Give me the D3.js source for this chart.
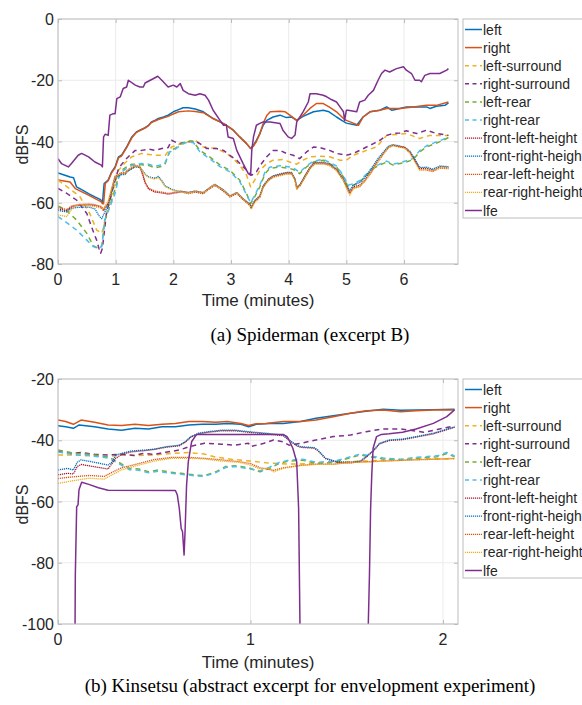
<!DOCTYPE html>
<html>
<head>
<meta charset="utf-8">
<script src="https://cdn.jsdelivr.net/npm/d3@7"></script>
<style>
  body { margin: 0; background: #fff; }
  svg { display: block; }
  text { font-family: "Liberation Sans", Arial, Helvetica, sans-serif; fill: #262626; }
  .caption { font-family: "Liberation Serif", "Times New Roman", serif; fill: #000; }
</style>
</head>
<body>
<svg id="fig" width="582" height="705"></svg>
<script>
// channel names, in plotting order
const channels = ["left", "right", "left-surround", "right-surround", "left-rear", "right-rear",
  "front-left-height", "front-right-height", "rear-left-height", "rear-right-height", "lfe"];

// ---- (a) Spiderman, excerpt B : [minutes, dBFS]
const aLeft = [[0,-50.3],[0.12,-51],[0.21,-51.6],[0.27,-51.8],[0.32,-54.8],[0.41,-55.7],[0.53,-57],[0.64,-58.1],[0.74,-59],[0.77,-60.3],[0.8,-53.7],[0.87,-52.6],[0.93,-49.9],[0.99,-48.3],[1.05,-45],[1.1,-44.5],[1.19,-41.8],[1.28,-38.5],[1.36,-36.9],[1.42,-36.3],[1.51,-35.5],[1.57,-34.7],[1.62,-33.6],[1.68,-33.1],[1.74,-32.5],[1.83,-32],[1.91,-31.4],[2.0,-30.3],[2.09,-29.6],[2.17,-29],[2.26,-29],[2.38,-29.4],[2.52,-30.3],[2.69,-32.5],[2.81,-33.6],[2.92,-34.7],[3.04,-36.3],[3.15,-38.5],[3.27,-40.7],[3.34,-42.3],[3.39,-41.2],[3.44,-39.6],[3.5,-37.4],[3.56,-34.6],[3.62,-33.1],[3.73,-32],[3.85,-31.4],[3.96,-32.2],[4.05,-32],[4.14,-33.1],[4.25,-31.8],[4.43,-30.3],[4.6,-29.8],[4.7,-30.3],[4.83,-32],[4.92,-33.1],[5.0,-34],[5.18,-34.7],[5.29,-32],[5.41,-30.3],[5.58,-29.8],[5.7,-28.7],[5.79,-29.8],[5.93,-29.2],[6.04,-28.7],[6.22,-28.7],[6.39,-28.7],[6.45,-29.2],[6.56,-28.5],[6.71,-28.2],[6.77,-27.4]];
const aRight = [[0,-52.6],[0.21,-53.2],[0.3,-55.4],[0.53,-57.5],[0.75,-59.7],[0.79,-60.3],[0.82,-53.7],[0.87,-52.8],[0.93,-50.2],[0.99,-48.6],[1.05,-45.3],[1.1,-44.8],[1.19,-42],[1.28,-38.8],[1.36,-37],[1.42,-36.4],[1.51,-35.6],[1.57,-34.8],[1.62,-33.8],[1.74,-32.8],[1.91,-31.8],[2.0,-31],[2.09,-30.3],[2.26,-30],[2.38,-30.2],[2.52,-30.6],[2.69,-32.5],[2.81,-33.6],[2.92,-34.7],[3.04,-36.3],[3.15,-38.5],[3.27,-40.7],[3.34,-42.3],[3.39,-41.5],[3.44,-40],[3.5,-37.5],[3.56,-34],[3.62,-31.5],[3.68,-30.3],[3.85,-30.1],[3.94,-30.3],[4.02,-31.4],[4.14,-33.1],[4.25,-31.4],[4.37,-29.2],[4.48,-27.6],[4.6,-27.6],[4.7,-28.7],[4.83,-30.3],[4.95,-32.5],[5.0,-33.1],[5.12,-34],[5.21,-34.7],[5.29,-32],[5.41,-30.3],[5.58,-29.8],[5.7,-29.2],[5.93,-29.2],[6.16,-28.7],[6.39,-28.2],[6.56,-28.2],[6.77,-27.1]];
const aLeftSurr = [[0,-52.6],[0.15,-54.7],[0.38,-58],[0.55,-63.5],[0.67,-68.9],[0.76,-70],[0.79,-67.8],[0.84,-63.5],[0.96,-55.5],[1.05,-49.4],[1.16,-47],[1.28,-45],[1.45,-43.9],[1.68,-44.5],[1.86,-44.5],[1.97,-41.8],[2.09,-41],[2.26,-40.1],[2.38,-39.6],[2.52,-41.8],[2.75,-42.3],[2.92,-43.9],[3.04,-45.6],[3.15,-47.7],[3.27,-51],[3.34,-54.8],[3.41,-52.6],[3.5,-49.4],[3.62,-47.2],[3.73,-46.1],[3.9,-45.9],[4.02,-46.7],[4.14,-47.4],[4.25,-46.1],[4.37,-45],[4.54,-44.8],[4.71,-45],[4.89,-46.1],[5.0,-46.1],[5.12,-44.5],[5.35,-42.9],[5.52,-41.8],[5.7,-38],[5.93,-37.6],[6.04,-37.4],[6.27,-39],[6.45,-38],[6.62,-38],[6.77,-38]];
const aRightSurr = [[0,-55.3],[0.15,-56.9],[0.32,-59.1],[0.5,-63.5],[0.58,-67.8],[0.67,-72.2],[0.71,-74.9],[0.74,-76.5],[0.77,-74.9],[0.8,-70],[0.84,-63.5],[0.9,-59.1],[0.96,-54.7],[1.05,-48.8],[1.16,-46.1],[1.28,-43.9],[1.34,-42.9],[1.45,-42.9],[1.57,-42.5],[1.68,-42.9],[1.8,-42.3],[1.91,-42],[1.97,-39.6],[2.09,-40.7],[2.26,-40.1],[2.38,-39.8],[2.46,-40.7],[2.58,-42.3],[2.75,-42.3],[2.87,-42.9],[2.98,-44.5],[3.1,-46.1],[3.21,-48.3],[3.3,-49.9],[3.36,-51],[3.44,-49.9],[3.53,-47.2],[3.62,-45],[3.73,-42.9],[3.85,-42.9],[3.96,-43.9],[4.08,-44.5],[4.19,-45.6],[4.31,-43.4],[4.43,-41.8],[4.54,-42],[4.71,-42.9],[4.83,-43.9],[5.0,-44.5],[5.12,-43.9],[5.23,-42.9],[5.35,-41.8],[5.47,-40.7],[5.58,-39.6],[5.7,-38],[5.81,-37.4],[5.93,-37.2],[6.04,-36.5],[6.22,-37.4],[6.39,-36.3],[6.56,-37.4],[6.77,-38]];
const aLeftRear = [[0,-61],[0.15,-62.6],[0.32,-65.6],[0.5,-70],[0.61,-74],[0.7,-74.9],[0.76,-74],[0.81,-66],[0.9,-61],[0.99,-55.5],[1.05,-51.5],[1.1,-49.4],[1.19,-48.3],[1.28,-47.4],[1.45,-47.6],[1.57,-47.8],[1.68,-48.6],[1.8,-48.1],[1.86,-47.2],[1.94,-42.9],[2.03,-42.3],[2.14,-40.7],[2.26,-39.8],[2.35,-40.1],[2.46,-42.9],[2.63,-45],[2.81,-47.7],[2.98,-49.4],[3.15,-52.6],[3.27,-57],[3.34,-60.3],[3.41,-58.1],[3.5,-54.8],[3.59,-50.5],[3.67,-48.8],[3.85,-48.3],[4.02,-48.8],[4.11,-49.4],[4.19,-50.5],[4.31,-48.3],[4.43,-46.7],[4.6,-46.1],[4.71,-47.2],[4.83,-48.3],[4.95,-51.6],[5.03,-54.8],[5.12,-54.3],[5.23,-53.2],[5.35,-51],[5.47,-48.8],[5.58,-47.7],[5.7,-46.7],[5.81,-47.7],[5.93,-47.2],[6.04,-46.7],[6.16,-45.9],[6.27,-43.4],[6.39,-41.8],[6.54,-40.7],[6.68,-39.6],[6.77,-38.7]];
const aRightRear = [[0,-64.5],[0.15,-66.5],[0.32,-68.9],[0.5,-72.2],[0.61,-74.3],[0.7,-75],[0.76,-74.3],[0.81,-65.6],[0.9,-61.3],[0.99,-56.9],[1.05,-52],[1.1,-50],[1.19,-48.8],[1.28,-47.8],[1.45,-47.2],[1.57,-47.4],[1.68,-48.1],[1.8,-47.6],[1.86,-46.8],[1.94,-43.4],[2.03,-42.6],[2.14,-41],[2.26,-40.1],[2.35,-40.4],[2.46,-43.4],[2.63,-45.6],[2.81,-48.2],[2.98,-49.9],[3.15,-53],[3.27,-57.4],[3.34,-60],[3.41,-57.6],[3.5,-54.2],[3.59,-50],[3.67,-48.4],[3.85,-47.9],[4.02,-48.3],[4.11,-49],[4.19,-50],[4.31,-48],[4.43,-46.4],[4.6,-45.8],[4.71,-46.9],[4.83,-48],[4.95,-51.2],[5.03,-54.3],[5.12,-53.8],[5.23,-52.8],[5.35,-50.6],[5.47,-48.4],[5.58,-47.4],[5.7,-46.4],[5.81,-47.4],[5.93,-46.9],[6.04,-46.3],[6.16,-45.5],[6.27,-43],[6.39,-41.4],[6.54,-40.3],[6.68,-39.3],[6.77,-38.4]];
const aFrontLeftH = [[0,-62],[0.15,-62.6],[0.24,-61.3],[0.35,-60.9],[0.53,-60.7],[0.64,-60.9],[0.75,-61.5],[0.79,-62.6],[0.82,-61.5],[0.87,-60.3],[0.93,-55.9],[0.99,-51.6],[1.1,-50.5],[1.16,-50.5],[1.22,-49.4],[1.34,-48.1],[1.42,-48.3],[1.47,-51],[1.51,-53.5],[1.57,-55.5],[1.68,-56.5],[1.8,-56.8],[1.91,-57.2],[2.03,-56.8],[2.14,-56.5],[2.26,-57],[2.38,-56.5],[2.52,-57],[2.63,-55.4],[2.72,-54.3],[2.81,-55.4],[2.92,-57],[2.98,-58.1],[3.1,-57],[3.21,-59],[3.33,-60.8],[3.35,-61.9],[3.41,-59.7],[3.5,-58.1],[3.56,-54.8],[3.65,-52.6],[3.73,-51.6],[3.85,-51],[3.96,-50.5],[4.05,-50.5],[4.11,-52.6],[4.14,-55.4],[4.2,-54.3],[4.28,-51.6],[4.37,-48.8],[4.45,-47.2],[4.6,-47.2],[4.71,-47.7],[4.83,-49.4],[4.95,-52.6],[5.0,-54.8],[5.06,-57],[5.12,-54.8],[5.23,-54.3],[5.32,-52.6],[5.44,-49.4],[5.55,-46.1],[5.64,-43.9],[5.73,-41.8],[5.81,-41.2],[5.93,-41.8],[6.01,-42],[6.1,-43.4],[6.19,-46.1],[6.27,-48.8],[6.39,-48.8],[6.5,-49.4],[6.62,-48.3],[6.77,-48.5]];
const aFrontRightH = [[0,-62.5],[0.15,-63],[0.24,-61.8],[0.35,-61.5],[0.53,-61.4],[0.64,-62],[0.72,-64.5],[0.76,-65.2],[0.8,-63.5],[0.87,-60.8],[0.93,-56.4],[0.99,-52],[1.1,-50.8],[1.16,-50.8],[1.22,-49.6],[1.34,-48.3],[1.42,-48.5],[1.47,-49.6],[1.51,-50.6],[1.57,-51.5],[1.68,-52],[1.74,-51.4],[1.8,-52.8],[1.86,-54.5],[1.97,-55.6],[2.09,-56.2],[2.26,-56.6],[2.38,-56.2],[2.52,-56.7],[2.63,-55],[2.72,-54],[2.81,-55],[2.92,-56.6],[2.98,-57.8],[3.1,-56.6],[3.21,-58.7],[3.33,-60.5],[3.35,-61.5],[3.41,-59.3],[3.5,-57.7],[3.56,-54.4],[3.65,-52.2],[3.73,-51.2],[3.85,-50.6],[3.96,-50.1],[4.05,-50.1],[4.11,-52.2],[4.14,-55],[4.2,-53.9],[4.28,-51.2],[4.37,-48.4],[4.45,-46.8],[4.6,-46.8],[4.71,-47.3],[4.83,-49],[4.95,-52.2],[5.0,-54.2],[5.06,-56],[5.12,-54.2],[5.23,-53.4],[5.32,-51.8],[5.44,-48.6],[5.55,-45.5],[5.64,-43.5],[5.73,-41.5],[5.81,-41],[5.93,-41.5],[6.01,-41.8],[6.1,-43.1],[6.19,-45.8],[6.27,-48.5],[6.39,-48.4],[6.5,-49],[6.62,-48],[6.77,-48.2]];
const aRearLeftH = [[0,-61.5],[0.15,-62.2],[0.24,-61],[0.35,-60.6],[0.53,-60.4],[0.64,-60.6],[0.75,-61.2],[0.79,-62.3],[0.82,-61.2],[0.87,-60],[0.93,-55.6],[0.99,-51.3],[1.1,-50.2],[1.16,-50.2],[1.22,-49.1],[1.34,-47.8],[1.42,-48],[1.47,-50.7],[1.51,-53.2],[1.57,-55.2],[1.68,-56.2],[1.8,-56.5],[1.91,-57],[2.03,-56.5],[2.14,-56.2],[2.26,-56.7],[2.38,-56.2],[2.52,-56.7],[2.63,-55.1],[2.72,-54],[2.81,-55.1],[2.92,-56.7],[2.98,-57.8],[3.1,-56.7],[3.21,-58.7],[3.33,-60.5],[3.35,-61.6],[3.41,-59.4],[3.5,-57.8],[3.56,-54.5],[3.65,-52.3],[3.73,-51.3],[3.85,-50.7],[3.96,-50.2],[4.05,-50.2],[4.11,-52.3],[4.14,-55.1],[4.2,-54],[4.28,-51.3],[4.37,-48.5],[4.45,-46.9],[4.6,-46.9],[4.71,-47.4],[4.83,-49.1],[4.95,-52.3],[5.0,-54.5],[5.06,-56.7],[5.12,-55.2],[5.23,-54.8],[5.32,-53],[5.44,-50],[5.55,-46.6],[5.64,-44.2],[5.73,-42],[5.81,-41.3],[5.93,-41.6],[6.01,-41.8],[6.1,-43.6],[6.19,-46.5],[6.27,-49.2],[6.39,-49.3],[6.5,-49.8],[6.62,-48.7],[6.77,-48.9]];
const aRearRightH = [[0,-64],[0.15,-64.5],[0.24,-62],[0.35,-60.5],[0.53,-61],[0.64,-61.3],[0.75,-61.8],[0.79,-62],[0.82,-61],[0.87,-59.5],[0.93,-55.5],[0.99,-51.8],[1.1,-50.3],[1.16,-50.6],[1.22,-49.2],[1.34,-48],[1.42,-48.2],[1.47,-49.8],[1.51,-50.8],[1.57,-51.8],[1.68,-52.3],[1.74,-51.8],[1.8,-53],[1.86,-54.8],[1.97,-55.8],[2.09,-56.4],[2.26,-56.9],[2.38,-56.4],[2.52,-56.9],[2.63,-55.2],[2.72,-54.2],[2.81,-55.2],[2.92,-56.8],[2.98,-58],[3.1,-56.8],[3.21,-58.9],[3.33,-61],[3.35,-62.2],[3.41,-59.9],[3.5,-58.3],[3.56,-55],[3.65,-52.8],[3.73,-51.8],[3.85,-51.2],[3.96,-50.7],[4.05,-50.7],[4.11,-52.8],[4.14,-55.6],[4.2,-54.5],[4.28,-51.8],[4.37,-49],[4.45,-47.4],[4.6,-47.4],[4.71,-47.9],[4.83,-49.6],[4.95,-52.8],[5.0,-55.2],[5.06,-57.5],[5.12,-55.5],[5.23,-54.6],[5.32,-52.9],[5.44,-49.8],[5.55,-46.4],[5.64,-44.1],[5.73,-41.9],[5.81,-41.3],[5.93,-41.9],[6.01,-42.2],[6.1,-43.8],[6.19,-46.8],[6.27,-49.4],[6.39,-49.1],[6.5,-49.6],[6.62,-48.5],[6.77,-48.7]];
const aLfe = [[0,-45.6],[0.06,-47.2],[0.18,-48.3],[0.24,-47],[0.35,-44.5],[0.41,-43.9],[0.53,-45],[0.64,-46.7],[0.75,-47.7],[0.77,-48.3],[0.79,-38.5],[0.82,-37.6],[0.87,-38],[0.9,-31.4],[0.96,-30.9],[0.99,-30.9],[1.02,-26],[1.08,-25.4],[1.13,-22.7],[1.19,-22.2],[1.22,-20],[1.34,-21.6],[1.42,-22.2],[1.48,-22.2],[1.51,-20.9],[1.6,-20],[1.65,-19.5],[1.73,-18.7],[1.8,-20],[1.91,-22.2],[2.0,-21.6],[2.06,-22.2],[2.12,-21.1],[2.17,-23.3],[2.26,-24.4],[2.38,-24.9],[2.46,-24.4],[2.55,-24.9],[2.61,-26.5],[2.69,-29.8],[2.81,-33.1],[2.87,-34.7],[2.92,-34.7],[2.95,-38.5],[3.04,-39],[3.1,-42.9],[3.21,-47.2],[3.3,-50.5],[3.34,-51],[3.36,-42.9],[3.39,-38.5],[3.44,-34.7],[3.5,-34.1],[3.56,-33.6],[3.68,-33.6],[3.85,-34.1],[3.9,-36.3],[3.99,-38.5],[4.05,-39],[4.11,-37.9],[4.14,-33.6],[4.25,-30.3],[4.34,-27.1],[4.37,-24.4],[4.48,-24.4],[4.6,-24.9],[4.66,-25.4],[4.74,-26.3],[4.83,-27.1],[4.89,-28.7],[4.95,-30.3],[4.97,-33.1],[5.0,-29.8],[5.03,-29.8],[5.18,-30.3],[5.23,-27.1],[5.32,-26.5],[5.38,-24.9],[5.47,-23.3],[5.55,-20],[5.61,-17.8],[5.67,-16.7],[5.75,-17.3],[5.87,-16.2],[5.99,-15.6],[6.04,-16.7],[6.13,-17.8],[6.19,-20],[6.27,-20],[6.3,-20.5],[6.36,-18.4],[6.45,-17.8],[6.62,-17.8],[6.74,-16.7],[6.77,-16.2]];

// ---- (b) Kinsetsu : [minutes, dBFS]  (lfe values below -100 run off the axes)
const bLeft = [[0,-35.3],[0.04,-35.6],[0.08,-36.1],[0.11,-35],[0.19,-35.6],[0.26,-36.3],[0.33,-36.7],[0.4,-36.1],[0.47,-36.3],[0.54,-35.6],[0.61,-35.6],[0.68,-35],[0.75,-34.8],[0.82,-34.8],[0.88,-34.5],[0.95,-34.8],[0.99,-35.6],[1.03,-34.8],[1.1,-34.5],[1.17,-34.5],[1.26,-33.9],[1.34,-32.8],[1.43,-32],[1.52,-31.2],[1.6,-30.5],[1.69,-29.9],[1.78,-30.2],[1.86,-30.1],[1.95,-30],[2.06,-29.9]];
const bRight = [[0,-33.4],[0.04,-33.9],[0.08,-34.8],[0.12,-33.4],[0.19,-34.1],[0.26,-35],[0.33,-35.2],[0.4,-34.8],[0.47,-35.2],[0.54,-34.8],[0.61,-34.5],[0.68,-33.9],[0.75,-33.9],[0.82,-34.1],[0.88,-33.9],[0.95,-34.5],[0.99,-35.2],[1.03,-34.6],[1.08,-34.5],[1.17,-33.9],[1.26,-33.9],[1.34,-33.4],[1.43,-32.3],[1.52,-31.2],[1.6,-30.4],[1.69,-30.1],[1.78,-30.7],[1.86,-30.4],[1.95,-30.1],[2.06,-30.1]];
const bLeftSurr = [[0,-44.8],[0.07,-44.8],[0.16,-45],[0.24,-45.4],[0.33,-44.8],[0.42,-45],[0.5,-44.8],[0.59,-44.3],[0.68,-44],[0.76,-44.5],[0.82,-45.5],[0.9,-46.2],[1.0,-46.8],[1.1,-47.5],[1.2,-47.8],[1.34,-47.6],[1.52,-47],[1.69,-46.5],[1.86,-46.2],[2.06,-46]];
const bRightSurr = [[0,-43.7],[0.07,-44.3],[0.12,-44],[0.19,-44.6],[0.26,-44.8],[0.33,-44.6],[0.4,-45],[0.44,-44.3],[0.5,-44.6],[0.56,-43.9],[0.63,-43.2],[0.68,-42.1],[0.76,-41],[0.85,-41.3],[0.92,-41.6],[0.99,-41],[1.0,-42.1],[1.07,-41],[1.12,-39.9],[1.17,-40.5],[1.2,-41.6],[1.26,-41],[1.34,-39.9],[1.43,-38.8],[1.52,-38.3],[1.6,-37.2],[1.69,-36.3],[1.78,-36.3],[1.86,-37],[1.9,-37.4],[1.97,-36.5],[2.06,-35.3]];
const bLeftRear = [[0,-43.2],[0.09,-44.3],[0.16,-44.6],[0.26,-45.4],[0.31,-47],[0.37,-49.2],[0.42,-49.4],[0.47,-50.3],[0.52,-49.7],[0.57,-50.3],[0.64,-50.8],[0.71,-51.3],[0.76,-51.6],[0.82,-50.3],[0.87,-48.6],[0.92,-48.3],[0.99,-49],[1.05,-50.3],[1.1,-49.2],[1.15,-47.5],[1.2,-46.8],[1.27,-46.5],[1.34,-47.5],[1.43,-47.2],[1.52,-45.7],[1.57,-44.8],[1.62,-45.4],[1.69,-46.1],[1.78,-46.5],[1.86,-45.9],[1.97,-45.4],[2.02,-44.3],[2.06,-45.4]];
const bRightRear = [[0,-43.8],[0.09,-44.8],[0.16,-45],[0.26,-45.8],[0.31,-47.4],[0.37,-49.6],[0.42,-49.8],[0.47,-50.6],[0.52,-50.1],[0.57,-50.7],[0.64,-51.1],[0.71,-51.6],[0.76,-51.8],[0.82,-50.6],[0.87,-48.9],[0.92,-48.6],[0.99,-49.3],[1.05,-50],[1.1,-48.8],[1.15,-47.2],[1.2,-46.5],[1.27,-46.2],[1.34,-47.2],[1.43,-46.9],[1.52,-45.4],[1.57,-44.5],[1.62,-45.1],[1.69,-45.8],[1.78,-46.2],[1.86,-45.6],[1.97,-45.1],[2.02,-44],[2.06,-45.1]];
const bFrontLeftH = [[0,-51.3],[0.05,-50.8],[0.08,-51],[0.1,-48.6],[0.12,-47.9],[0.26,-49.4],[0.3,-45.9],[0.33,-44.6],[0.38,-43.8],[0.45,-43.4],[0.5,-43],[0.56,-42.3],[0.63,-41.8],[0.66,-40.7],[0.69,-39],[0.73,-37.9],[0.78,-37.4],[0.85,-36.9],[0.92,-36.9],[0.99,-37.4],[1.08,-37.9],[1.17,-38.5],[1.2,-40],[1.24,-41.8],[1.26,-42.3],[1.33,-42.6],[1.35,-43.4],[1.39,-46],[1.45,-47.2],[1.52,-47.4],[1.57,-47],[1.6,-45.6],[1.64,-43.4],[1.67,-41.2],[1.72,-40.1],[1.79,-39.8],[1.86,-39],[1.95,-37.9],[2.06,-35.8]];
const bFrontRightH = [[0,-49.7],[0.05,-49.2],[0.08,-49.7],[0.1,-47.2],[0.12,-46.4],[0.19,-47.2],[0.26,-48.1],[0.28,-47.2],[0.3,-44.8],[0.33,-44.3],[0.38,-43.5],[0.45,-43.2],[0.5,-42.9],[0.56,-42.1],[0.63,-41.6],[0.66,-40.5],[0.69,-38.8],[0.73,-37.7],[0.78,-37.2],[0.85,-36.7],[0.92,-36.7],[0.99,-37.2],[1.08,-37.7],[1.17,-38.3],[1.2,-39.9],[1.24,-41.6],[1.26,-42.1],[1.33,-42.4],[1.35,-43.2],[1.39,-45.9],[1.45,-47],[1.52,-47.2],[1.57,-46.8],[1.6,-45.4],[1.64,-43.2],[1.67,-41],[1.72,-39.9],[1.79,-39.6],[1.86,-38.8],[1.95,-37.7],[2.06,-35.6]];
const bRearLeftH = [[0,-52.5],[0.07,-52],[0.16,-51.5],[0.24,-51.8],[0.28,-50.5],[0.33,-49],[0.42,-47.6],[0.5,-46.3],[0.59,-45.6],[0.68,-45.6],[0.76,-45.9],[0.85,-46.4],[0.94,-47],[1.0,-47.6],[1.05,-49],[1.12,-49.8],[1.17,-49],[1.26,-48.2],[1.34,-47.8],[1.43,-47.8],[1.52,-47.2],[1.69,-46.8],[1.86,-46.4],[2.06,-46]];
const bRearRightH = [[0,-54.1],[0.07,-53.3],[0.16,-52.4],[0.24,-52.7],[0.28,-51.3],[0.33,-49.7],[0.42,-48.1],[0.5,-46.8],[0.59,-45.9],[0.68,-45.9],[0.76,-46.1],[0.85,-46.8],[0.94,-47.2],[1.0,-48.1],[1.05,-49.4],[1.09,-49],[1.12,-50.3],[1.17,-49.2],[1.26,-48.3],[1.34,-47.9],[1.43,-47.9],[1.52,-47.2],[1.6,-47.2],[1.69,-46.8],[1.78,-46.5],[1.95,-46.1],[2.06,-45.9]];
const bLfe = [[0,-130],[0.086,-130],[0.09,-84],[0.097,-61.7],[0.104,-61.1],[0.109,-56.2],[0.123,-53.7],[0.16,-54.4],[0.21,-55.5],[0.26,-56.3],[0.61,-56.4],[0.62,-57.9],[0.63,-62.2],[0.64,-68.8],[0.647,-69.9],[0.655,-77.5],[0.66,-69.9],[0.668,-54.6],[0.677,-47],[0.694,-40.5],[0.72,-38.1],[1.17,-38.1],[1.19,-38.8],[1.2,-39.9],[1.22,-42.6],[1.24,-47],[1.25,-62.2],[1.257,-100],[1.262,-130],[1.605,-130],[1.612,-100],[1.618,-84],[1.624,-62.2],[1.63,-51.3],[1.637,-42.6],[1.655,-38.8],[1.68,-38.1],[1.72,-37.9],[1.79,-37.4],[1.86,-36.3],[1.95,-34.5],[2.02,-32.3],[2.06,-30.1]];

// ticks
const aXTicks = [0, 1, 2, 3, 4, 5, 6];
const aYTicks = [0, -20, -40, -60, -80];
const bXTicks = [0, 1, 2];
const bYTicks = [-20, -40, -60, -80, -100];

// MATLAB default line colours and styles per channel
const styles = [
  {color: "#0072BD", dash: null, w: 1.5},
  {color: "#D95319", dash: null, w: 1.5},
  {color: "#EDB120", dash: "5,4", w: 1.5},
  {color: "#7E2F8E", dash: "5,4", w: 1.5},
  {color: "#77AC30", dash: "5,4", w: 1.5},
  {color: "#4DBEEE", dash: "5,4", w: 1.5},
  {color: "#A2142F", dash: "1.2,0.8", w: 1.3},
  {color: "#0072BD", dash: "1.2,0.8", w: 1.3},
  {color: "#D95319", dash: "1.2,0.8", w: 1.3},
  {color: "#EDB120", dash: "1.2,0.8", w: 1.3},
  {color: "#7E2F8E", dash: null, w: 1.5}
];

const svg = d3.select("#fig");

function drawPanel(p) {
  const x = d3.scaleLinear().domain([0, p.xMax]).range([58, 458]);
  const y = d3.scaleLinear().domain(p.yDomain).range([p.bottom, p.top]);
  const g = svg.append("g");

  g.append("clipPath").attr("id", p.id + "-clip")
    .append("rect").attr("x", 58).attr("y", p.top).attr("width", 400).attr("height", p.bottom - p.top);

  // grid
  g.selectAll(".gx").data(p.xTicks).enter().append("line")
    .attr("x1", d => x(d)).attr("x2", d => x(d)).attr("y1", p.top).attr("y2", p.bottom)
    .attr("stroke", "#ebebeb").attr("stroke-width", 1);
  g.selectAll(".gy").data(p.yTicks).enter().append("line")
    .attr("x1", 58).attr("x2", 458).attr("y1", d => y(d)).attr("y2", d => y(d))
    .attr("stroke", "#ebebeb").attr("stroke-width", 1);

  // inward ticks on all four sides
  const xa = g.append("g").attr("transform", `translate(0,${p.bottom})`)
    .call(d3.axisBottom(x).tickValues(p.xTicks).tickSize(-4).tickFormat(""));
  const xt = g.append("g").attr("transform", `translate(0,${p.top})`)
    .call(d3.axisTop(x).tickValues(p.xTicks).tickSize(-4).tickFormat(""));
  const ya = g.append("g").attr("transform", "translate(58,0)")
    .call(d3.axisLeft(y).tickValues(p.yTicks).tickSize(-4).tickFormat(""));
  const yr = g.append("g").attr("transform", "translate(458,0)")
    .call(d3.axisRight(y).tickValues(p.yTicks).tickSize(-4).tickFormat(""));
  [xa, xt, ya, yr].forEach(a => {
    a.select(".domain").remove();
    a.selectAll("line").attr("stroke", "#bbb");
  });

  // tick labels
  g.selectAll(".xl").data(p.xTicks).enter().append("text")
    .attr("x", d => x(d)).attr("y", p.bottom + 21)
    .attr("text-anchor", "middle").attr("font-size", 16).text(d => d);
  g.selectAll(".yl").data(p.yTicks).enter().append("text")
    .attr("x", 54).attr("y", d => y(d) + 6)
    .attr("text-anchor", "end").attr("font-size", 16).text(d => d);

  // series
  const line = d3.line().x(d => x(d[0])).y(d => y(d[1]));
  const lines = g.append("g").attr("clip-path", `url(#${p.id}-clip)`);
  p.series.forEach((s, i) => {
    lines.append("path").datum(s)
      .attr("d", line)
      .attr("fill", "none")
      .attr("stroke", styles[i].color)
      .attr("stroke-width", styles[i].w)
      .attr("stroke-dasharray", styles[i].dash)
      .attr("stroke-linejoin", "round");
  });

  // box
  g.append("rect").attr("x", 58).attr("y", p.top).attr("width", 400).attr("height", p.bottom - p.top)
    .attr("fill", "none").attr("stroke", "#bdbdbd").attr("stroke-width", 1);

  // axis labels
  g.append("text").attr("transform", `translate(28,${(p.top + p.bottom) / 2 + 3}) rotate(-90)`)
    .attr("text-anchor", "middle").attr("font-size", 16).text("dBFS");
  g.append("text").attr("x", 258).attr("y", p.xLabelY)
    .attr("text-anchor", "middle").attr("font-size", 17).text("Time (minutes)");

  // legend (the box runs past the right edge of the figure, as in the source)
  const lg = g.append("g");
  lg.append("rect").attr("x", 463).attr("y", p.top).attr("width", 135).attr("height", p.legendH)
    .attr("fill", "#fff").attr("stroke", "#bdbdbd").attr("stroke-width", 1);
  channels.forEach((name, i) => {
    const cy = p.top + 10.5 + i * 18.1;
    lg.append("line").attr("x1", 465).attr("x2", 482).attr("y1", cy).attr("y2", cy)
      .attr("stroke", styles[i].color).attr("stroke-width", styles[i].w)
      .attr("stroke-dasharray", styles[i].dash ? (styles[i].w > 1.4 ? "4,3.5" : styles[i].dash) : null);
    lg.append("text").attr("x", 483).attr("y", cy + 5).attr("font-size", 14).text(name);
  });

  // caption
  svg.append("text").attr("class", "caption").attr("x", 310).attr("y", p.captionY)
    .attr("text-anchor", "middle").attr("font-size", 19).text(p.caption);
}

drawPanel({
  id: "pa", top: 19, bottom: 264, xMax: 6.936, yDomain: [-80, 0],
  xTicks: aXTicks, yTicks: aYTicks, legendH: 199, xLabelY: 306, captionY: 341,
  caption: "(a) Spiderman (excerpt B)",
  series: [aLeft, aRight, aLeftSurr, aRightSurr, aLeftRear, aRightRear,
           aFrontLeftH, aFrontRightH, aRearLeftH, aRearRightH, aLfe]
});
drawPanel({
  id: "pb", top: 379, bottom: 624, xMax: 2.078, yDomain: [-100, -20],
  xTicks: bXTicks, yTicks: bYTicks, legendH: 199, xLabelY: 668, captionY: 692,
  caption: "(b) Kinsetsu (abstract excerpt for envelopment experiment)",
  series: [bLeft, bRight, bLeftSurr, bRightSurr, bLeftRear, bRightRear,
           bFrontLeftH, bFrontRightH, bRearLeftH, bRearRightH, bLfe]
});
</script>
</body>
</html>
